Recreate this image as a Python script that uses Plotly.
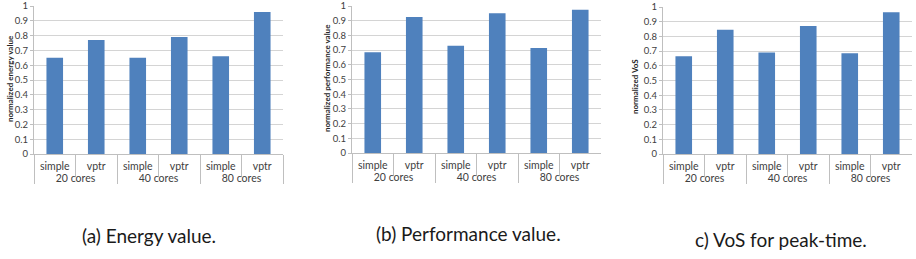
import plotly.graph_objects as go

groups = ["20 cores", "20 cores", "40 cores", "40 cores", "80 cores", "80 cores"]
methods = ["simple", "vptr", "simple", "vptr", "simple", "vptr"]
energy = [0.65, 0.77, 0.65, 0.79, 0.66, 0.96]
performance = [0.685, 0.925, 0.73, 0.95, 0.715, 0.975]
vos = [0.665, 0.845, 0.69, 0.87, 0.685, 0.965]
y_titles = ["normalized energy value", "normalized performance value", "normalized VoS"]
captions = ["(a) Energy value.", "(b) Performance value.", "c) VoS for peak-time."]
tick_vals = [i / 10 for i in range(11)]
tick_text = ["0", "0.1", "0.2", "0.3", "0.4", "0.5", "0.6", "0.7", "0.8", "0.9", "1"]

W, H = 916, 259
BLUE = "#4F81BD"
GRID = "#D4D4D4"
AXIS = "#BFBFBF"
FONT = "Lato"

panels = [
    # (values, x0, x1, ytop, ybottom, title_x, title_y, caption_x, caption_y)
    (energy, 34, 283, 6, 154, 10, 79, 149, 235),
    (performance, 352, 601, 6, 153, 327, 78, 468, 233),
    (vos, 663, 912, 7, 154, 635, 87, 781, 239),
]

fig = go.Figure()
layout = dict(
    width=W, height=H,
    margin=dict(l=0, r=0, t=0, b=0),
    paper_bgcolor="white", plot_bgcolor="white",
    showlegend=False,
    bargap=0.6,
    font=dict(family=FONT, color="#404040"),
    annotations=[],
)

for i, (vals, x0, x1, yt, yb, tx, ty, cx, cy) in enumerate(panels):
    n = "" if i == 0 else str(i + 1)
    fig.add_trace(go.Bar(
        x=[groups, methods], y=vals,
        marker=dict(color=BLUE, line=dict(width=0)),
        xaxis="x" + n, yaxis="y" + n,
        cliponaxis=False,
    ))
    layout["xaxis" + n] = dict(
        type="multicategory",
        domain=[x0 / W, x1 / W],
        anchor="y" + n,
        automargin=False,
        showline=True, linecolor=AXIS, linewidth=1,
        ticks="outside", tickson="boundaries", ticklen=22, tickcolor=AXIS,
        showdividers=True, dividercolor=AXIS, dividerwidth=1,
        ticklabelstandoff=2,
        tickfont=dict(size=10.5, color="#404040", family=FONT),
        showgrid=False,
    )
    layout["yaxis" + n] = dict(
        domain=[1 - yb / H, 1 - yt / H],
        anchor="x" + n,
        automargin=False,
        range=[0, 1],
        tickvals=tick_vals, ticktext=tick_text,
        showgrid=True, gridcolor=GRID, gridwidth=1,
        showline=True, linecolor=AXIS, linewidth=1,
        zeroline=False,
        ticks="outside", ticklen=3, tickcolor=AXIS,
        ticklabeloverflow="allow",
        tickfont=dict(size=9.5, color="#404040", family=FONT),
    )
    layout["annotations"].append(dict(
        text="<b>" + y_titles[i] + "</b>", textangle=-90,
        x=tx / W, y=1 - ty / H, xref="paper", yref="paper",
        showarrow=False, font=dict(size=8, color="#262626", family=FONT),
        xanchor="center", yanchor="middle",
    ))
    layout["annotations"].append(dict(
        text=captions[i],
        x=cx / W, y=1 - cy / H, xref="paper", yref="paper",
        showarrow=False, font=dict(size=19, color="#1a1a1a", family=FONT),
        xanchor="center", yanchor="middle",
    ))

fig.update_layout(**layout)
fig.write_html(
    "out.html",
    config={"displayModeBar": False},
    post_script="document.body.style.margin='0';document.body.style.overflow='hidden';",
)
